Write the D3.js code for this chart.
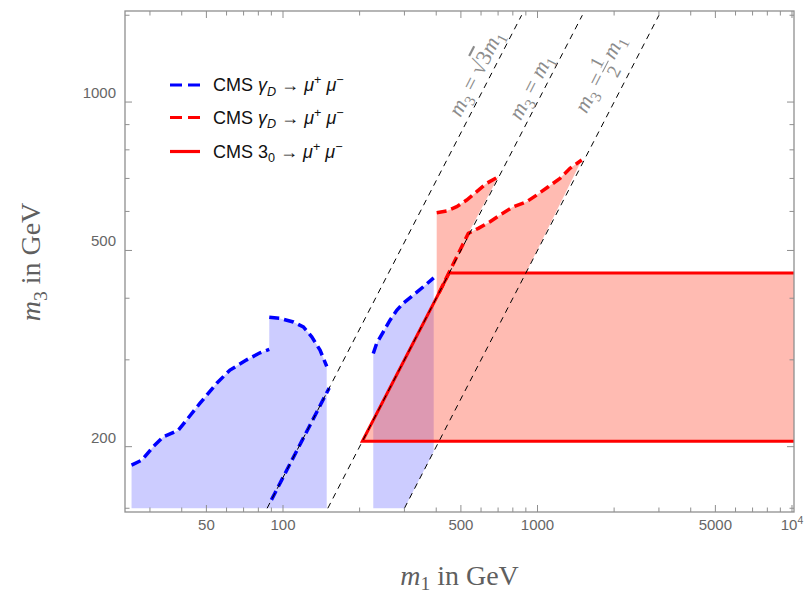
<!DOCTYPE html>
<html><head><meta charset="utf-8">
<script src="https://cdn.jsdelivr.net/npm/d3@7"></script>
<style>body{margin:0;background:#fff}svg{display:block}</style>
</head><body>
<svg id="c" width="809" height="594"></svg>
<script>
// ---------- data ----------
const xDomain = [23.94, 10183];   // m1 (GeV), log axis
const yDomain = [147.4, 1530];    // m3 (GeV), log axis
const xMajorTicks = [50, 100, 500, 1000, 5000, 10000];
const xTickLabels = [["50"], ["100"], ["500"], ["1000"], ["5000"], ["10", "4"]];
const xMinorTicks = [30, 40, 60, 70, 80, 90, 200, 300, 400, 600, 700, 800, 900, 2000, 3000, 4000, 6000, 7000, 8000, 9000];
const yMajorTicks = [200, 500, 1000];
const yTickLabels = ["200", "500", "1000"];
const yMinorTicks = [150, 300, 400, 600, 700, 800, 900, 1500];

// CMS gamma_D -> mu mu (blue), [m1, m3]
const blueUpperA = [[25.4,183.5],[27.9,187.8],[30.9,200],[33.9,209.5],[38.8,216],[41.8,226.5],[47.2,245],[54.9,269],[61.9,286],[72,300],[81.2,310],[88.3,315]];
const blueUpperB = [[88.3,366],[97.3,364],[109.8,358],[120.2,350],[129.7,334],[139.8,314],[148.5,291]];
const blueUpperC = [[226.3,309],[233.4,324],[247.8,342],[263.3,361],[279.8,378],[297,391],[325,406],[356,422],[391,440]];
const blueDiagM3 = [156, 263];   // along m3 = sqrt(3) m1
const blueFloor = 150;

// CMS gamma_D -> mu mu (red dashed), [m1, m3]
const redUpperA = [[401.7,596.5],[439.8,601.2],[481.5,613.4],[527,632.9],[576.9,658],[631.6,684.2],[701.5,705.7]];
const redUpperB = [[534.8,541.6],[585.3,554.4],[650.9,571.8],[712.5,590],[803.4,613.4],[907,627.9],[992.9,647.8],[1102.6,673.3],[1226,700.2],[1342,733.8],[1492,762.8]];
const redEdgeStartM3 = 410;      // red dashed along m3 = m1

// CMS 3_0 -> mu mu (red solid band), m3 range
const bandM3 = [205, 450];

// reference lines m3 = r * m1
const lineRatios = [Math.sqrt(3), 1, 0.5];
const lineM3Range = [150, 1500];
const lineLabelM3 = [1110, 1045, 1105];
const lineLabelOffset = [13, 12, 25];

// ---------- setup ----------
const F = {left:125, right:794, top:11, bottom:512};
const svg = d3.select('#c');
const x = d3.scaleLog().domain(xDomain).range([F.left, F.right]);
const y = d3.scaleLog().domain(yDomain).range([F.bottom, F.top]);
const line = d3.line().x(d => x(d[0])).y(d => y(d[1]));

svg.append('defs').append('clipPath').attr('id','clip')
  .append('rect').attr('x',F.left).attr('y',F.top).attr('width',F.right-F.left).attr('height',F.bottom-F.top);
const plot = svg.append('g').attr('clip-path','url(#clip)');

function rich(t, parts, size, subShift){
  let cur = 0;
  const sb = subShift === undefined ? 0.25 : subShift;
  parts.forEach(p => {
    const target = p.sub ? size*sb : p.sup ? -size*0.38 : 0;
    const ts = t.append('tspan').text(p.t).attr('dy', target - cur);
    cur = target;
    if (p.sub || p.sup) ts.attr('font-size', size*0.7);
    if (p.it) ts.attr('font-style','italic');
    if (p.ol) ts.attr('text-decoration','overline');
  });
}

// ---------- fills ----------
const blueFill = 'rgba(0,0,255,0.2)';
const redFill = 'rgba(255,50,20,0.33)';
const bluePoly1 = [[blueUpperA[0][0], blueFloor], ...blueUpperA, ...blueUpperB, [blueUpperB[blueUpperB.length-1][0], blueFloor]];
const lastC = blueUpperC[blueUpperC.length-1];
const bluePoly2 = [[blueUpperC[0][0], blueFloor], ...blueUpperC, [lastC[0], lastC[0]*lineRatios[2]], [blueFloor/lineRatios[2], blueFloor]];
plot.append('path').attr('d', line(bluePoly1)+'Z').attr('fill', blueFill);
plot.append('path').attr('d', line(bluePoly2)+'Z').attr('fill', blueFill);

const xMax = xDomain[1];
const redPoly = [[bandM3[0], bandM3[0]], [xMax, bandM3[0]], [xMax, bandM3[1]], [bandM3[1]/lineRatios[2], bandM3[1]],
  ...redUpperB.slice().reverse(), ...redUpperA.slice().reverse(), [redUpperA[0][0], redUpperA[0][0]]];
plot.append('path').attr('d', line(redPoly)+'Z').attr('fill', redFill);

// ---------- curves ----------
plot.append('path').attr('d', line([[xMax, bandM3[1]], [bandM3[1], bandM3[1]], [bandM3[0], bandM3[0]], [xMax, bandM3[0]]]))
  .attr('fill','none').attr('stroke','#ff0000').attr('stroke-width',3);

const dashStyle = (p, c) => p.attr('fill','none').attr('stroke',c).attr('stroke-width',3.5).attr('stroke-dasharray','10,5');
dashStyle(plot.append('path').attr('d', line(blueUpperA)), '#0000ff');
dashStyle(plot.append('path').attr('d', line(blueUpperB)), '#0000ff');
dashStyle(plot.append('path').attr('d', line(blueUpperC)), '#0000ff');
dashStyle(plot.append('path').attr('d', line(blueDiagM3.map(v => [v/lineRatios[0], v]))), '#0000ff');
dashStyle(plot.append('path').attr('d', line(redUpperA)), '#ff0000');
dashStyle(plot.append('path').attr('d', line([[redEdgeStartM3, redEdgeStartM3], ...redUpperB])), '#ff0000');

// reference lines
lineRatios.forEach(r => {
  plot.append('path').attr('d', line(lineM3Range.map(v => [v/r, v])))
    .attr('fill','none').attr('stroke','#000').attr('stroke-width',1).attr('stroke-dasharray','6,5');
});

// line labels
const p1 = [x(100), y(100)], p2 = [x(1000), y(1000)];
const ang = Math.atan2(p2[1]-p1[1], p2[0]-p1[0]) * 180 / Math.PI;
const lblColor = '#8c8c8c', lblSize = 22;
lineRatios.forEach((r, i) => {
  const m3 = lineLabelM3[i];
  const g = svg.append('g')
    .attr('transform', `translate(${x(m3/r)},${y(m3)}) rotate(${ang}) translate(0,${-lineLabelOffset[i]})`)
    .attr('font-family','Liberation Serif, Times New Roman, serif').attr('font-size',lblSize).attr('fill',lblColor);
  if (i === 0) {
    const t = g.append('text').attr('text-anchor','middle').attr('y',6);
    rich(t, [{t:'m',it:true},{t:'3',sub:true},{t:' = √'},{t:'3',ol:true},{t:'m',it:true},{t:'1',sub:true}], lblSize);
  } else if (i === 1) {
    const t = g.append('text').attr('text-anchor','middle').attr('y',6);
    rich(t, [{t:'m',it:true},{t:'3',sub:true},{t:' = '},{t:'m',it:true},{t:'1',sub:true}], lblSize);
  } else {
    const t = g.append('text').attr('text-anchor','end').attr('x',-6).attr('y',6);
    rich(t, [{t:'m',it:true},{t:'3',sub:true},{t:' ='}], lblSize);
    g.append('text').attr('text-anchor','middle').attr('x',3).attr('y',-2).attr('font-size',19).text('1');
    g.append('line').attr('x1',-3).attr('x2',10).attr('y1',1).attr('y2',1).attr('stroke',lblColor).attr('stroke-width',1);
    g.append('text').attr('text-anchor','middle').attr('x',3).attr('y',17).attr('font-size',19).text('2');
    const t2 = g.append('text').attr('text-anchor','start').attr('x',13).attr('y',6);
    rich(t2, [{t:'m',it:true},{t:'1',sub:true}], lblSize);
  }
});

// ---------- frame & ticks ----------
const axisColor = '#8f8f8f';
svg.append('rect').attr('x',F.left).attr('y',F.top).attr('width',F.right-F.left).attr('height',F.bottom-F.top)
  .attr('fill','none').attr('stroke',axisColor).attr('stroke-width',1.3);
const tk = svg.append('g').attr('stroke',axisColor).attr('stroke-width',1);
function xt(v, len){
  const px = x(v);
  tk.append('line').attr('x1',px).attr('x2',px).attr('y1',F.bottom).attr('y2',F.bottom-len);
  tk.append('line').attr('x1',px).attr('x2',px).attr('y1',F.top).attr('y2',F.top+len);
}
function yt(v, len){
  const py = y(v);
  tk.append('line').attr('y1',py).attr('y2',py).attr('x1',F.left).attr('x2',F.left+len);
  tk.append('line').attr('y1',py).attr('y2',py).attr('x1',F.right).attr('x2',F.right-len);
}
xMajorTicks.forEach(v => xt(v, 7));
xMinorTicks.forEach(v => xt(v, 4.5));
yMajorTicks.forEach(v => yt(v, 7));
yMinorTicks.forEach(v => yt(v, 4.5));

const tickFont = 'Liberation Sans, Arial, sans-serif', tickColor = '#666', tickSize = 15;
xMajorTicks.forEach((v, i) => {
  const t = svg.append('text').attr('x', x(v)).attr('y', F.bottom+18).attr('text-anchor','middle')
    .attr('font-family',tickFont).attr('font-size',tickSize).attr('fill',tickColor);
  const lab = xTickLabels[i];
  if (lab.length === 1) t.text(lab[0]);
  else rich(t, [{t:lab[0]},{t:lab[1],sup:true}], tickSize);
});
yMajorTicks.forEach((v, i) => {
  svg.append('text').attr('x', F.left-9).attr('y', y(v)-4).attr('text-anchor','end')
    .attr('font-family',tickFont).attr('font-size',tickSize).attr('fill',tickColor).text(yTickLabels[i]);
});

// axis titles
const titleFont = 'Liberation Serif, Times New Roman, serif', titleColor = '#5f5f5f', titleSize = 28;
const yl = svg.append('text').attr('transform','translate(40,262) rotate(-90)').attr('text-anchor','middle')
  .attr('font-family',titleFont).attr('font-size',titleSize).attr('fill',titleColor);
rich(yl, [{t:'m',it:true},{t:'3',sub:true},{t:' in GeV'}], titleSize);
const xl = svg.append('text').attr('x',(F.left+F.right)/2).attr('y',585).attr('text-anchor','middle')
  .attr('font-family',titleFont).attr('font-size',titleSize).attr('fill',titleColor);
rich(xl, [{t:'m',it:true},{t:'1',sub:true},{t:' in GeV'}], titleSize, 0.18);

// ---------- legend ----------
const legendItems = [
  {color:'#0000ff', dash:'12,6', parts:[{t:'CMS '},{t:'γ',it:true},{t:'D',it:true,sub:true},{t:' → '},{t:'μ',it:true},{t:'+',sup:true},{t:' '},{t:'μ',it:true},{t:'−',sup:true}]},
  {color:'#ff0000', dash:'12,6', parts:[{t:'CMS '},{t:'γ',it:true},{t:'D',it:true,sub:true},{t:' → '},{t:'μ',it:true},{t:'+',sup:true},{t:' '},{t:'μ',it:true},{t:'−',sup:true}]},
  {color:'#ff0000', dash:null, parts:[{t:'CMS 3'},{t:'0',sub:true},{t:' → '},{t:'μ',it:true},{t:'+',sup:true},{t:' '},{t:'μ',it:true},{t:'−',sup:true}]}
];
const legendY = [85, 117.5, 151.5];
legendItems.forEach((it, i) => {
  const ly = legendY[i];
  const l = svg.append('line').attr('x1',170).attr('x2',200).attr('y1',ly).attr('y2',ly)
    .attr('stroke',it.color).attr('stroke-width',3.2);
  if (it.dash) l.attr('stroke-dasharray', it.dash);
  const t = svg.append('text').attr('x',213).attr('y',ly+6).attr('font-family','Liberation Sans, Arial, sans-serif')
    .attr('font-size',18).attr('fill','#111');
  rich(t, it.parts, 18);
});
</script>
</body></html>
